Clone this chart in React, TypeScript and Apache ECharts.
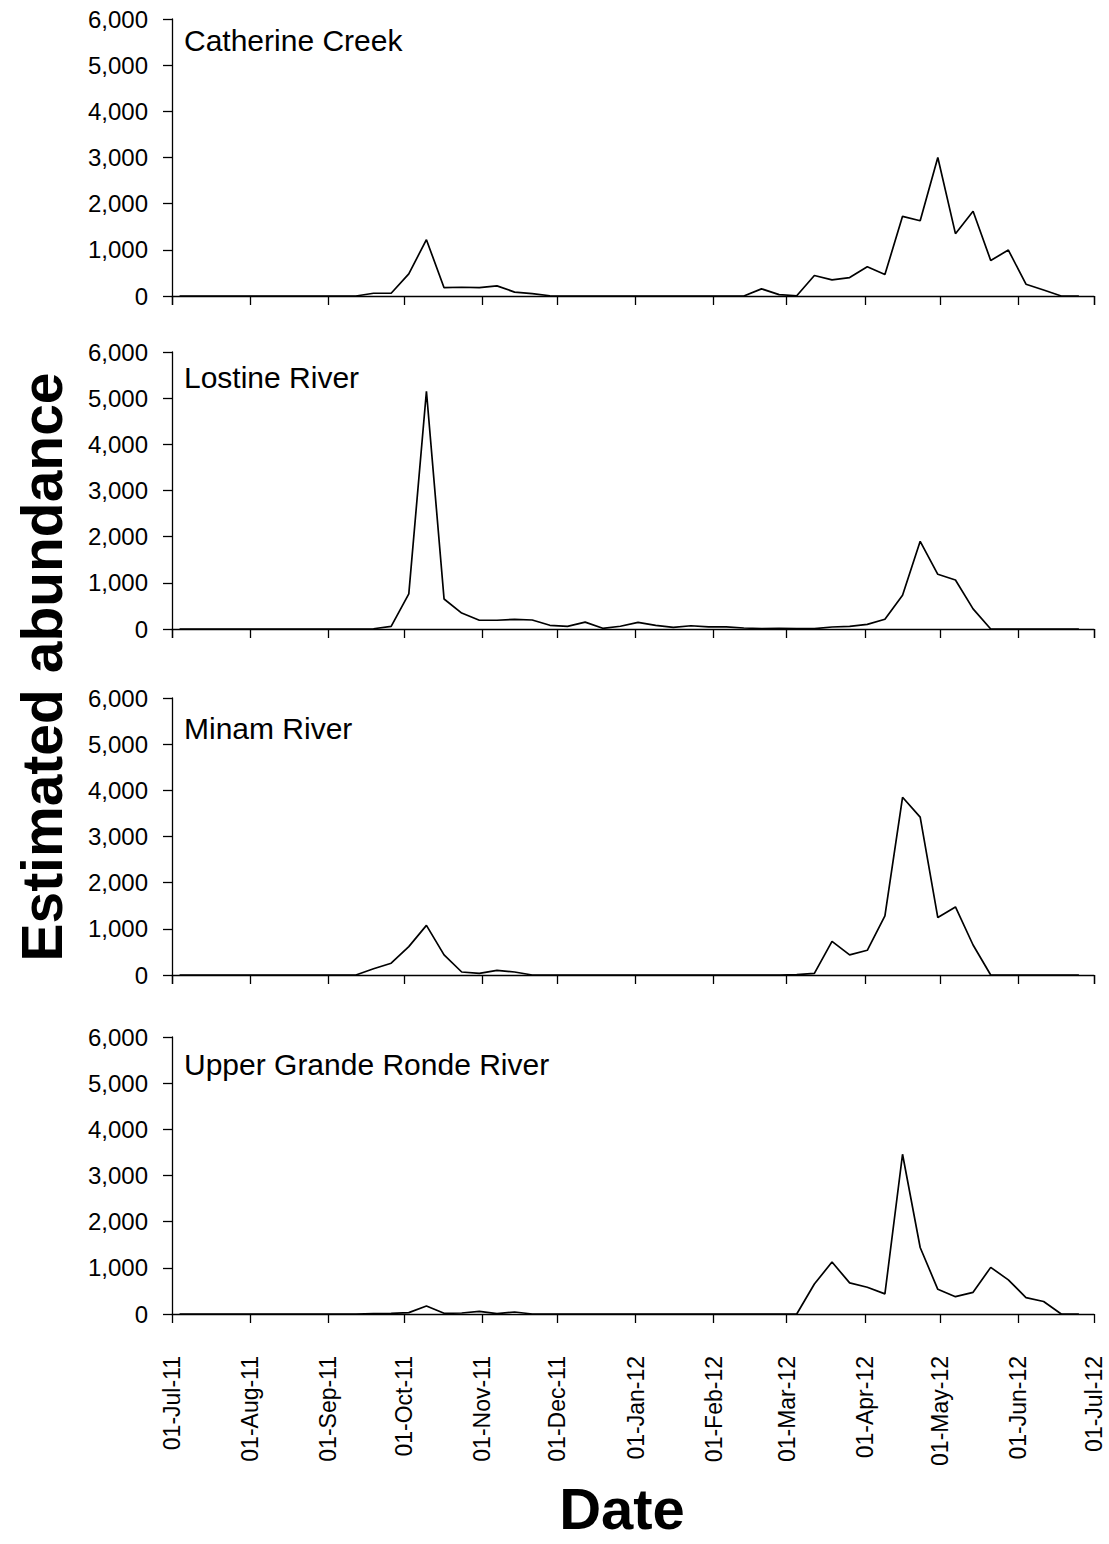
import React, { useEffect, useRef } from "react";
import * as echarts from "echarts";

// Weekly abundance estimates, one sample per week starting Monday 4 July 2011
const FIRST_WEEK = { year: 2011, month: 6, day: 4 };
const AXIS_START = { year: 2011, month: 6, day: 1 };
const AXIS_END = { year: 2012, month: 6, day: 1 };

const SITE_NAMES = [
  "Catherine Creek",
  "Lostine River",
  "Minam River",
  "Upper Grande Ronde River",
];

const catherineCreek = [
  0, 0, 0, 0, 0, 0, 0, 0, 0, 0, 0,
  60, 60, 480, 1220, 180, 190, 180, 220, 85, 50, 5,
  0, 0, 0, 0, 0, 0, 0, 0, 0, 0, 0,
  155, 30, 5, 445, 350, 400, 635, 465, 1725, 1630, 3000, 1350, 1835, 770, 995, 255, 130,
  0, 0,
];

const lostineRiver = [
  0, 0, 0, 0, 0, 0, 0, 0, 0, 0, 0,
  5, 58, 760, 5150, 650, 345, 190, 190, 210, 195, 80, 58, 150, 15, 60, 145, 80, 35, 70,
  45, 45, 22, 7, 14, 7, 7, 43, 58, 100, 210, 730, 1900, 1185, 1060, 435, 0,
  0, 0, 0, 0, 0,
];

const minamRiver = [
  0, 0, 0, 0, 0, 0, 0, 0, 0, 0, 0,
  135, 255, 615, 1075, 435, 65, 35, 100, 65, 0,
  0, 0, 0, 0, 0, 0, 0, 0, 0, 0, 0, 0, 0, 0,
  7, 35, 730, 435, 535, 1280, 3850, 3420, 1245, 1475, 650, 0,
  0, 0, 0, 0, 0,
];

const upperGrandeRonde = [
  0, 0, 0, 0, 0, 0, 0, 0, 0, 0, 0,
  8, 15, 29, 175, 15, 22, 58, 7, 43, 0,
  0, 0, 0, 0, 0, 0, 0, 0, 0, 0, 0, 0, 0, 0, 0,
  650, 1125, 675, 580, 435, 3460, 1440, 535, 375, 470, 1010, 740, 355, 270,
  0, 0,
];

const SITE_VALUES = [catherineCreek, lostineRiver, minamRiver, upperGrandeRonde];

const Y_MIN = 0;
const Y_MAX = 6000;
const Y_STEP = 1000;

const MONTHS = ["Jan", "Feb", "Mar", "Apr", "May", "Jun", "Jul", "Aug", "Sep", "Oct", "Nov", "Dec"];
const DAY_MS = 86400000;
const FONT = "'Liberation Sans', Arial, Helvetica, sans-serif";

// Panel placement on the page
const GRID_LEFT = 172;
const GRID_WIDTH = 922;
const GRID_HEIGHT = 277;
const GRID_TOPS = [19, 352, 698, 1037];
const LABEL_CENTERS = [40.5, 377, 728, 1064];

function weekDates(count: number): number[] {
  const out: number[] = [];
  for (let k = 0; k < count; k++) {
    out.push(new Date(FIRST_WEEK.year, FIRST_WEEK.month, FIRST_WEEK.day + 7 * k).getTime());
  }
  return out;
}

function formatDate(v: number): string {
  const d = new Date(v);
  const dd = String(d.getDate()).padStart(2, "0");
  const yy = String(d.getFullYear()).slice(2);
  return `${dd}-${MONTHS[d.getMonth()]}-${yy}`;
}

function formatThousands(v: number): string {
  return Math.round(v).toLocaleString("en-US");
}

export default function App() {
  const ref = useRef<HTMLDivElement>(null);

  useEffect(() => {
    document.body.style.margin = "0";
    if (!ref.current) return;
    const chart = echarts.init(ref.current, undefined, { renderer: "svg" });

    const start = new Date(AXIS_START.year, AXIS_START.month, AXIS_START.day).getTime();
    const end = new Date(AXIS_END.year, AXIS_END.month, AXIS_END.day).getTime();

    const axisLine = { show: true, lineStyle: { color: "#000", width: 1.3 } };
    const axisTick = { show: true, inside: false, length: 9, lineStyle: { color: "#000", width: 1.3 } };

    const grids = GRID_TOPS.map((top) => ({
      left: GRID_LEFT,
      top,
      width: GRID_WIDTH,
      height: GRID_HEIGHT,
      containLabel: false,
    }));

    const xAxes = GRID_TOPS.map((_, i) => ({
      type: "time",
      gridIndex: i,
      min: start,
      max: end,
      minInterval: 28 * DAY_MS,
      maxInterval: 31 * DAY_MS,
      axisLine,
      axisTick,
      splitLine: { show: false },
      axisLabel: {
        show: i === GRID_TOPS.length - 1,
        rotate: 90,
        margin: 42,
        fontSize: 23,
        fontFamily: FONT,
        color: "#000",
        showMinLabel: true,
        showMaxLabel: true,
        formatter: (v: number) => formatDate(v),
      },
    }));

    const yAxes = GRID_TOPS.map((_, i) => ({
      type: "value",
      gridIndex: i,
      min: Y_MIN,
      max: Y_MAX,
      interval: Y_STEP,
      axisLine,
      axisTick,
      splitLine: { show: false },
      axisLabel: {
        margin: 24,
        fontSize: 24,
        fontFamily: FONT,
        color: "#000",
        formatter: (v: number) => formatThousands(v),
      },
    }));

    const dates = weekDates(catherineCreek.length);

    const series = SITE_VALUES.map((vals, i) => ({
      type: "line",
      name: SITE_NAMES[i],
      xAxisIndex: i,
      yAxisIndex: i,
      symbol: "none",
      lineStyle: { color: "#000", width: 1.7 },
      data: vals.map((v, k) => [dates[k], v]),
    }));

    const siteLabels = SITE_NAMES.map((name, i) => ({
      type: "text",
      x: 184,
      y: LABEL_CENTERS[i],
      style: {
        text: name,
        fontSize: 30,
        fontFamily: FONT,
        fill: "#000",
        align: "left",
        verticalAlign: "middle",
      },
    }));

    chart.setOption({
      animation: false,
      backgroundColor: "#fff",
      grid: grids,
      xAxis: xAxes,
      yAxis: yAxes,
      series,
      graphic: [
        ...siteLabels,
        {
          type: "text",
          x: 42,
          y: 667,
          rotation: Math.PI / 2,
          style: {
            text: "Estimated abundance",
            fontSize: 57,
            fontWeight: "bold",
            fontFamily: FONT,
            fill: "#000",
            align: "center",
            verticalAlign: "middle",
          },
        },
        {
          type: "text",
          x: 622,
          y: 1508,
          style: {
            text: "Date",
            fontSize: 58,
            fontWeight: "bold",
            fontFamily: FONT,
            fill: "#000",
            align: "center",
            verticalAlign: "middle",
          },
        },
      ],
    });

    return () => chart.dispose();
  }, []);

  return <div ref={ref} style={{ width: 1109, height: 1544 }} />;
}
